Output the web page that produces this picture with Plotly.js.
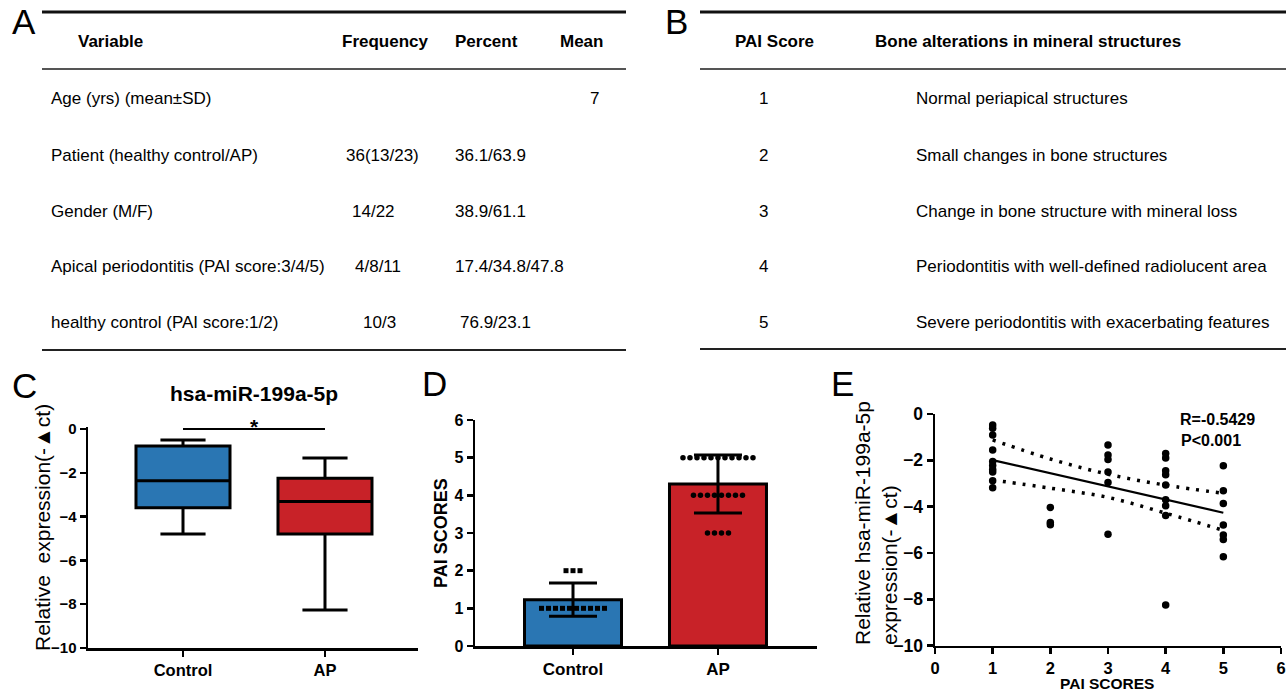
<!DOCTYPE html>
<html><head><meta charset="utf-8">
<script src="https://cdn.plot.ly/plotly-3.0.1.min.js"></script>
<style>html,body{margin:0;padding:0;background:#fff;}#chart{width:1288px;height:691px;}</style>
</head><body><div id="chart"></div>
<script>
// ---------------- DATA ----------------
const tableAHeaders = ['Variable', 'Frequency', 'Percent', 'Mean'];
const tableAVariables = ['Age (yrs) (mean±SD)', 'Patient (healthy control/AP)', 'Gender (M/F)',
  'Apical periodontitis (PAI score:3/4/5)', 'healthy control (PAI score:1/2)'];
const tableAFrequency = ['', '36(13/23)', '14/22', '4/8/11', '10/3'];
const tableAPercent = ['', '36.1/63.9', '38.9/61.1', '17.4/34.8/47.8', '76.9/23.1'];
const tableAMean = ['7', '', '', '', ''];

const tableBHeaders = ['PAI Score', 'Bone alterations in mineral structures'];
const tableBScores = ['1', '2', '3', '4', '5'];
const tableBDescriptions = ['Normal periapical structures', 'Small changes in bone structures',
  'Change in bone structure with mineral loss', 'Periodontitis with well-defined radiolucent area',
  'Severe periodontitis with exacerbating features'];

// Panel C: box plot (hsa-miR-199a-5p)
const groups = ['Control', 'AP'];
const boxUpper = [-0.50, -1.33];
const boxQ3 = [-0.78, -2.25];
const boxMedian = [-2.36, -3.31];
const boxQ1 = [-3.60, -4.79];
const boxLower = [-4.79, -8.26];
const sigLevel = 0;
const sigLabel = '*';

// Panel D: PAI scores per group
const barMeans = [1.23, 4.30];
const barSD = [0.44, 0.77];
const controlPAI = [1, 1, 1, 1, 1, 1, 1, 1, 1, 1, 2, 2, 2];
const apPAI = [3, 3, 3, 3, 4, 4, 4, 4, 4, 4, 4, 4, 5, 5, 5, 5, 5, 5, 5, 5, 5, 5, 5];

// Panel E: correlation
const corrPAI = [1, 1, 1, 1, 1, 1, 1, 1, 1, 1,
  2, 2, 2,
  3, 3, 3, 3, 3, 3,
  4, 4, 4, 4, 4, 4, 4, 4, 4,
  5, 5, 5, 5, 5, 5, 5];
const corrExpr = [-0.47, -0.62, -0.91, -1.55, -2.05, -2.22, -2.40, -2.50, -2.88, -3.18,
  -4.03, -4.68, -4.78,
  -1.34, -1.77, -1.96, -2.50, -2.96, -5.19,
  -1.70, -1.90, -2.45, -2.62, -3.06, -3.70, -3.96, -4.38, -8.24,
  -2.23, -3.31, -3.86, -4.79, -5.22, -5.42, -6.16];
const fitX = [1, 5];
const fitY = [-1.99, -4.26];
const bandX = [1, 2, 3, 4, 5];
const bandUpper = [-1.12, -1.94, -2.60, -3.07, -3.42];
const bandLower = [-2.85, -3.20, -3.60, -4.28, -5.02];
const statLines = ['R=-0.5429', 'P<0.001'];

// ---------------- STYLE / LAYOUT HELPERS ----------------
const W = 1288, H = 691;
const FONT = 'Liberation Sans, Arial, Helvetica, sans-serif';
const BLUE = '#2a76b3', RED = '#c82228';
const px = v => v / W;
const py = v => 1 - v / H;

function spreadX(vals, center, step) {
  const counts = {}, seen = {};
  vals.forEach(v => counts[v] = (counts[v] || 0) + 1);
  return vals.map(v => {
    const i = seen[v] = (seen[v] === undefined ? 0 : seen[v] + 1);
    return center + (i - (counts[v] - 1) / 2) * step;
  });
}

const annotations = [];
const shapes = [];
function txt(text, x, y, size, opts) {
  opts = opts || {};
  annotations.push(Object.assign({
    text: text, x: px(x), y: py(y), xref: 'paper', yref: 'paper', showarrow: false,
    xanchor: 'left', yanchor: 'middle',
    font: {family: FONT, size: size, color: '#000', weight: opts.bold ? 700 : 400}
  }, opts.extra || {}));
}
function hline(x0, x1, y, w, c) {
  shapes.push({type: 'line', xref: 'paper', yref: 'paper', x0: px(x0), x1: px(x1), y0: py(y), y1: py(y),
    line: {color: c, width: w}});
}

// Panel letters
[['A', 24, 21], ['B', 676, 21], ['C', 25, 385], ['D', 434, 383], ['E', 842, 383]].forEach(l =>
  txt(l[0], l[1], l[2], 35, {extra: {xanchor: 'center'}}));

// Table A
const rowY = [98, 155, 211, 266, 322];
const headY = 41;
hline(42, 626, 12, 2.8, '#111');
hline(42, 626, 69, 2.2, '#555');
hline(42, 626, 350, 2.2, '#222');
const aHeadX = [76, 340, 453, 558];
tableAHeaders.forEach((h, i) => txt(h, aHeadX[i], headY, 17, {bold: true}));
const aFreqX = [0, 344, 350, 353, 361];
const aPctX = [0, 453, 453, 453, 458];
tableAVariables.forEach((v, i) => {
  txt(v, 49, rowY[i], 17);
  if (tableAFrequency[i]) txt(tableAFrequency[i], aFreqX[i], rowY[i], 17);
  if (tableAPercent[i]) txt(tableAPercent[i], aPctX[i], rowY[i], 17);
  if (tableAMean[i]) txt(tableAMean[i], 588, rowY[i], 17);
});

// Table B
hline(700, 1286, 12, 2.8, '#111');
hline(700, 1286, 69, 2.2, '#555');
hline(700, 1286, 349, 2.2, '#222');
txt(tableBHeaders[0], 733, headY, 17, {bold: true});
txt(tableBHeaders[1], 873, headY, 17, {bold: true});
tableBScores.forEach((s, i) => {
  txt(s, 764, rowY[i], 17, {extra: {xanchor: 'center'}});
  txt(tableBDescriptions[i], 914, rowY[i], 17);
});

// Panel C texts
txt('hsa-miR-199a-5p', 254, 393, 21, {bold: true, extra: {xanchor: 'center'}});
txt(sigLabel, 254, 426, 21, {bold: true, extra: {xanchor: 'center'}});
txt('Relative  expression(-▲ct)', 42, 528, 21, {extra: {xanchor: 'center', textangle: -90}});
// Panel D texts
txt('PAI SCORES', 441, 533, 18, {bold: true, extra: {xanchor: 'center', textangle: -90}});
// Panel E texts
txt('PAI SCORES', 1107, 683, 15.5, {bold: true, extra: {xanchor: 'center'}});
txt('Relative hsa-miR-199a-5p<br>expression(-▲ct)', 876, 523, 21,
  {extra: {xanchor: 'center', textangle: -90, align: 'left'}});
txt(statLines[0], 1178, 419, 16, {bold: true});
txt(statLines[1], 1179, 440, 16, {bold: true});

// ---------------- TRACES ----------------
const traces = [];
const colors = [BLUE, RED];
groups.forEach((g, i) => {
  traces.push({
    type: 'box', orientation: 'v', x: [i], q1: [boxQ1[i]], median: [boxMedian[i]], q3: [boxQ3[i]],
    lowerfence: [boxLower[i]], upperfence: [boxUpper[i]], width: 0.662, whiskerwidth: 0.48,
    fillcolor: colors[i], line: {color: '#000', width: 3}, boxpoints: false,
    xaxis: 'x', yaxis: 'y', hoverinfo: 'skip', showlegend: false
  });
});
traces.push({
  type: 'scatter', mode: 'lines', x: [0, 1], y: [sigLevel, sigLevel],
  line: {color: '#000', width: 2}, xaxis: 'x', yaxis: 'y', hoverinfo: 'skip', showlegend: false
});

traces.push({
  type: 'bar', x: [0, 1], y: barMeans, width: [0.669, 0.669],
  marker: {color: colors, line: {color: '#000', width: 3}},
  error_y: {type: 'data', array: barSD, visible: true, color: '#000', thickness: 3, width: 24},
  xaxis: 'x2', yaxis: 'y2', hoverinfo: 'skip', showlegend: false
});
traces.push({
  type: 'scatter', mode: 'markers', x: spreadX(controlPAI, 0, 0.0483), y: controlPAI,
  marker: {symbol: 'square', size: 5, color: '#000'}, xaxis: 'x2', yaxis: 'y2',
  hoverinfo: 'skip', showlegend: false, cliponaxis: false
});
traces.push({
  type: 'scatter', mode: 'markers', x: spreadX(apPAI, 1, 0.0483), y: apPAI,
  marker: {symbol: 'circle', size: 5.5, color: '#000'}, xaxis: 'x2', yaxis: 'y2',
  hoverinfo: 'skip', showlegend: false, cliponaxis: false
});

traces.push({
  type: 'scatter', mode: 'markers', x: corrPAI, y: corrExpr,
  marker: {size: 7.5, color: '#000'}, xaxis: 'x3', yaxis: 'y3', hoverinfo: 'skip', showlegend: false
});
traces.push({
  type: 'scatter', mode: 'lines', x: fitX, y: fitY, line: {color: '#000', width: 2.2},
  xaxis: 'x3', yaxis: 'y3', hoverinfo: 'skip', showlegend: false
});
[bandUpper, bandLower].forEach(b => traces.push({
  type: 'scatter', mode: 'lines', x: bandX, y: b,
  line: {color: '#000', width: 3.5, dash: '3px,7px', shape: 'spline', smoothing: 1},
  xaxis: 'x3', yaxis: 'y3', hoverinfo: 'skip', showlegend: false
}));

// ---------------- AXES ----------------
function axisBase(extra) {
  return Object.assign({
    showline: true, linecolor: '#000', linewidth: 2.5, ticks: 'outside', ticklen: 6, tickwidth: 2.5,
    tickcolor: '#000', showgrid: false, zeroline: false, fixedrange: true,
    tickfont: {family: FONT, size: 15, color: '#000', weight: 700}
  }, extra);
}

const layout = {
  width: W, height: H, margin: {l: 0, r: 0, t: 0, b: 0}, paper_bgcolor: '#fff', plot_bgcolor: 'rgba(0,0,0,0)',
  showlegend: false, boxmode: 'overlay', barmode: 'overlay',
  xaxis: axisBase({domain: [px(88), px(418)], range: [-0.669, 1.655], tickvals: [0, 1], ticktext: groups,
    anchor: 'y', tickfont: {family: FONT, size: 16.5, color: '#000', weight: 700}}),
  yaxis: axisBase({domain: [py(648), py(427)], range: [-10, 0.09], tickvals: [0, -2, -4, -6, -8, -10],
    anchor: 'x'}),
  xaxis2: axisBase({domain: [px(475), px(817)], range: [-0.676, 1.683], tickvals: [0, 1], ticktext: groups,
    anchor: 'y2', tickfont: {family: FONT, size: 17, color: '#000', weight: 700}}),
  yaxis2: axisBase({domain: [py(646), py(420)], range: [0, 6], tickvals: [0, 1, 2, 3, 4, 5, 6], anchor: 'x2',
    tickfont: {family: FONT, size: 16, color: '#000', weight: 700}}),
  xaxis3: axisBase({domain: [px(935), px(1281)], range: [0, 6], tickvals: [0, 1, 2, 3, 4, 5, 6], anchor: 'y3',
    tickfont: {family: FONT, size: 16.5, color: '#000', weight: 700}}),
  yaxis3: axisBase({domain: [py(645.7), py(414)], range: [-10, 0], tickvals: [0, -2, -4, -6, -8, -10], anchor: 'x3',
    tickfont: {family: FONT, size: 17.5, color: '#000', weight: 700}}),
  annotations: annotations,
  shapes: shapes
};

Plotly.newPlot('chart', traces, layout, {displayModeBar: false, staticPlot: true});
</script>
</body></html>
